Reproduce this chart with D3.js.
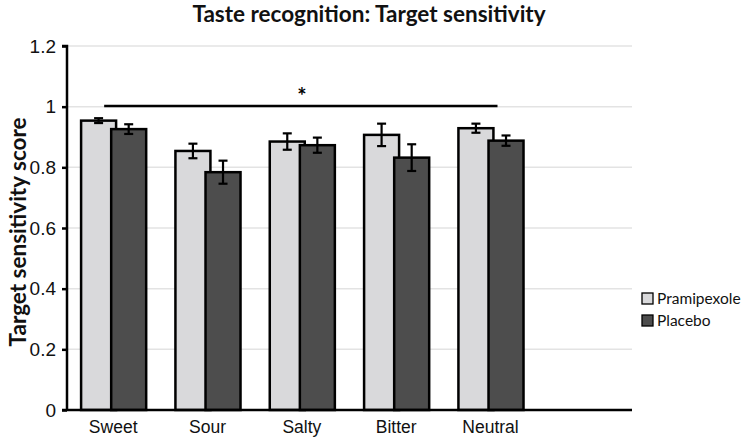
<!DOCTYPE html>
<html>
<head>
<meta charset="utf-8">
<script src="https://cdn.jsdelivr.net/npm/d3@7"></script>
<style>
  html, body { margin: 0; padding: 0; background: #ffffff; }
  svg { display: block; font-family: Lato, "Open Sans", sans-serif; }
</style>
</head>
<body>
<svg id="chart" width="742" height="437"></svg>
<script>
const categories = ["Sweet", "Sour", "Salty", "Bitter", "Neutral", ""];
const seriesNames = ["Pramipexole", "Placebo"];
const pramipexole = [0.954, 0.854, 0.885, 0.907, 0.929];
const placebo = [0.926, 0.784, 0.873, 0.832, 0.888];
const pramipexoleErr = [0.008, 0.024, 0.027, 0.037, 0.015];
const placeboErr = [0.016, 0.038, 0.025, 0.044, 0.017];
const yTicks = [0, 0.2, 0.4, 0.6, 0.8, 1, 1.2];
const sigLevel = 1.002;
const colors = ["#d9d9db", "#4d4d4d"];

const svg = d3.select("#chart");

const x = d3.scaleBand().domain(categories).range([66, 632]).padding(0);
const y = d3.scaleLinear().domain([0, 1.2]).range([410, 46]);

// gridlines
svg.append("g").selectAll("line").data(yTicks.filter(d => d > 0)).join("line")
  .attr("x1", 67).attr("x2", 632)
  .attr("y1", d => y(d)).attr("y2", d => y(d))
  .attr("stroke", "#e3e3e3").attr("stroke-width", 1.5);

// y axis
const yAxis = d3.axisLeft(y).tickValues(yTicks).tickSize(5).tickPadding(6)
  .tickFormat(d => d3.format("")(+d.toFixed(1)));
const gy = svg.append("g").attr("transform", "translate(67,0)").call(yAxis);
gy.select(".domain").attr("stroke", "#000").attr("stroke-width", 2.5).attr("d", `M-5,${y(1.2)}H0V${y(0)}`);
gy.selectAll(".tick line").attr("stroke", "#000").attr("stroke-width", 2.5);
gy.selectAll(".tick text").attr("font-size", 19).attr("fill", "#111");

// bars
const bw = x.bandwidth();
const barW = bw * 0.371;
const offsets = [-0.34 * bw, -0.021 * bw];
const series = [pramipexole, placebo];
const errs = [pramipexoleErr, placeboErr];

series.forEach((vals, si) => {
  const g = svg.append("g");
  g.selectAll("rect").data(vals).join("rect")
    .attr("x", (d, i) => x(categories[i]) + bw / 2 + offsets[si])
    .attr("y", d => y(d))
    .attr("width", barW)
    .attr("height", d => y(0) - y(d))
    .attr("fill", colors[si])
    .attr("stroke", "#000").attr("stroke-width", 2.5);
});

// error bars
series.forEach((vals, si) => {
  const g = svg.append("g").attr("stroke", "#000").attr("stroke-width", 2.2);
  vals.forEach((v, i) => {
    const cx = x(categories[i]) + bw / 2 + offsets[si] + barW / 2;
    const e = errs[si][i];
    g.append("line").attr("x1", cx).attr("x2", cx).attr("y1", y(v + e)).attr("y2", y(v - e));
    g.append("line").attr("x1", cx - 4.5).attr("x2", cx + 4.5).attr("y1", y(v + e)).attr("y2", y(v + e));
    g.append("line").attr("x1", cx - 4.5).attr("x2", cx + 4.5).attr("y1", y(v - e)).attr("y2", y(v - e));
  });
});

// x axis
const xAxis = d3.axisBottom(x).tickSize(0).tickPadding(11);
const gx = svg.append("g").attr("transform", `translate(0,${y(0)})`).call(xAxis);
gx.select(".domain").attr("stroke", "#000").attr("stroke-width", 2.5).attr("d", `M62,0H632`);
gx.selectAll(".tick text").attr("font-size", 17.5).attr("fill", "#111");

// significance line
svg.append("line")
  .attr("x1", x("Sweet") + bw / 2 - 9).attr("x2", x("Neutral") + bw / 2 + 7)
  .attr("y1", y(sigLevel)).attr("y2", y(sigLevel))
  .attr("stroke", "#000").attr("stroke-width", 2.5);
svg.append("text")
  .attr("x", (x("Salty") + bw / 2)).attr("y", y(sigLevel) - 2)
  .attr("text-anchor", "middle").attr("font-size", 22).attr("font-weight", "bold")
  .text("*");

// title
svg.append("text").attr("x", 369).attr("y", 22).attr("text-anchor", "middle")
  .attr("font-size", 22.5).attr("font-weight", "bold").attr("fill", "#111")
  .text("Taste recognition: Target sensitivity");

// y label
svg.append("text").attr("transform", `translate(26,${(y(0) + y(1.2)) / 2 + 4}) rotate(-90)`)
  .attr("text-anchor", "middle").attr("font-size", 22.5).attr("font-weight", "bold").attr("fill", "#111")
  .text("Target sensitivity score");

// legend
const lg = svg.append("g").attr("transform", "translate(642,293)");
seriesNames.forEach((n, i) => {
  lg.append("rect").attr("x", 0).attr("y", i * 22).attr("width", 11).attr("height", 11)
    .attr("fill", colors[i]).attr("stroke", "#000").attr("stroke-width", 1.3);
  lg.append("text").attr("x", 15).attr("y", i * 22 + 11).attr("font-size", 15.5).attr("fill", "#111").text(n);
});
</script>
</body>
</html>
